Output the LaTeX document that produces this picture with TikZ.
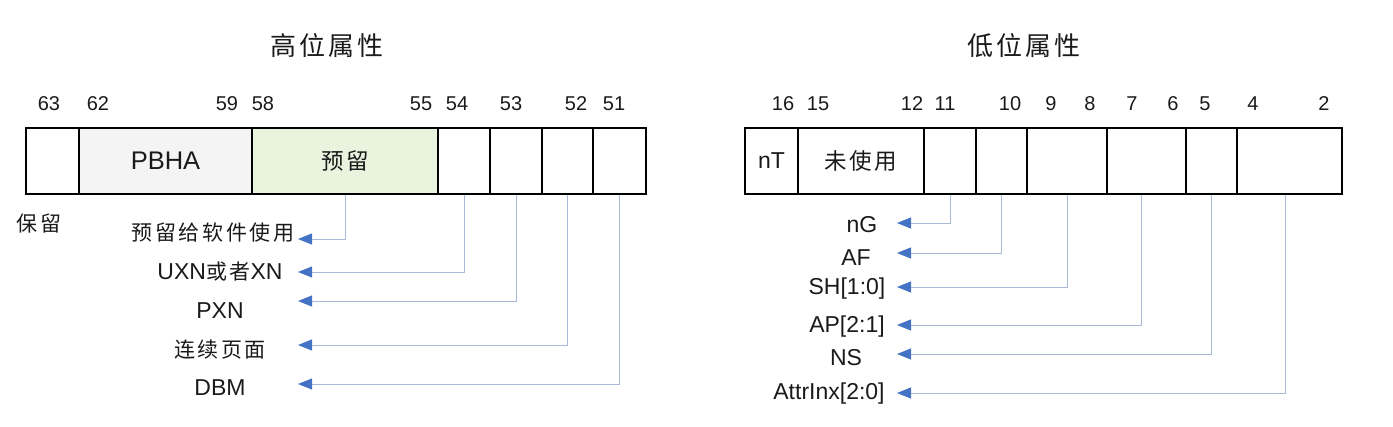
\documentclass[tikz,border=0pt]{standalone}
\usepackage{fontspec}
\setmainfont{Liberation Sans}
\newfontfamily\cjk[LetterSpace=12]{Noto Sans CJK SC}
\usetikzlibrary{arrows.meta}
\definecolor{txt}{HTML}{1A1A1A}
\definecolor{conn}{HTML}{A9BAD8}
\definecolor{arr}{HTML}{4472C4}
\definecolor{pbha}{HTML}{F4F4F4}
\definecolor{resv}{HTML}{EAF3DE}
\tikzset{
  cell/.style={draw=black, line width=1.8pt, minimum height=66pt, inner sep=0pt, fill=white, text=txt, font=\fontsize{23}{27}\selectfont},
  num/.style={text=txt, font=\fontsize{20}{24}\selectfont, inner sep=0pt},
  lbl/.style={text=txt, font=\fontsize{23}{27}\selectfont, inner sep=0pt},
  clbl/.style={text=txt, font=\fontsize{21}{25}\cjk, inner sep=0pt},
  ttl/.style={text=txt, font=\fontsize{26}{30}\cjk, inner sep=0pt},
  conn/.style={draw=conn, line width=1pt, -{Triangle[length=14pt,width=11pt,color=arr]}},
}
\begin{document}
\begin{tikzpicture}[x=1pt,y=-1pt]
\useasboundingbox (0,0) rectangle (1393,426);
% titles
\node[ttl] (t1) at (327,46) {高位属性};
\node[ttl] (t2) at (1024,46) {低位属性};
% left register cells
\node[cell, minimum width=53pt] (c63) at (52.5,161) {};
\node[cell, minimum width=173pt, fill=pbha, font=\fontsize{25.5}{29}\selectfont] (c62) at (165.5,161) {PBHA};
\node[cell, minimum width=186pt, fill=resv, font=\fontsize{22.5}{27}\cjk] (c58) at (345,161) {预留};
\node[cell, minimum width=52pt] (c54) at (464,161) {};
\node[cell, minimum width=52pt] (c53) at (516,161) {};
\node[cell, minimum width=51pt] (c52) at (567.5,161) {};
\node[cell, minimum width=53pt] (c51) at (619.5,161) {};
% left bit numbers
\node[num] (n63) at (49,104) {63};
\node[num] (n62) at (98,104) {62};
\node[num] (n59) at (227,104) {59};
\node[num] (n58) at (263,104) {58};
\node[num] (n55) at (421,104) {55};
\node[num] (n54) at (457,104) {54};
\node[num] (n53) at (511,104) {53};
\node[num] (n52) at (576,104) {52};
\node[num] (n51) at (614,104) {51};
% left labels
\node[clbl] (bl) at (39,224) {保留};
\node[clbl] (l1) at (213,233) {预留给软件使用};
\node[lbl] (l2) at (220,272) {UXN{\cjk\fontsize{21}{25}\selectfont 或者}XN};
\node[lbl] (l3) at (220,311) {PXN};
\node[clbl] (l4) at (220,350) {连续页面};
\node[lbl] (l5) at (220,388) {DBM};
\coordinate (a1) at (298,239);
\coordinate (a2) at (298,272);
\coordinate (a3) at (298,301);
\coordinate (a4) at (298,345);
\coordinate (a5) at (298,384);
\draw[conn] (c58.south) |- (a1);
\draw[conn] (c54.south) |- (a2);
\draw[conn] (c53.south) |- (a3);
\draw[conn] (c52.south) |- (a4);
\draw[conn] (c51.south) |- (a5);
% right register cells
\node[cell, minimum width=53pt] (c16) at (771.5,161) {nT};
\node[cell, minimum width=126pt, font=\fontsize{22.5}{27}\cjk] (c15) at (861,161) {未使用};
\node[cell, minimum width=52pt] (c11) at (950,161) {};
\node[cell, minimum width=51pt] (c10) at (1001.5,161) {};
\node[cell, minimum width=80pt] (c9) at (1067,161) {};
\node[cell, minimum width=79pt] (c7) at (1146.5,161) {};
\node[cell, minimum width=51pt] (c5) at (1211.5,161) {};
\node[cell, minimum width=105pt] (c4) at (1289.5,161) {};
% right bit numbers
\node[num] (m16) at (783,104) {16};
\node[num] (m15) at (818,104) {15};
\node[num] (m12) at (912,104) {12};
\node[num] (m11) at (945,104) {11};
\node[num] (m10) at (1010,104) {10};
\node[num] (m9) at (1051,104) {9};
\node[num] (m8) at (1090,104) {8};
\node[num] (m7) at (1132,104) {7};
\node[num] (m6) at (1173,104) {6};
\node[num] (m5) at (1205,104) {5};
\node[num] (m4) at (1253,104) {4};
\node[num] (m2) at (1324,104) {2};
% right labels
\node[lbl] (r1) at (862,225) {nG};
\node[lbl] (r2) at (856,258) {AF};
\node[lbl] (r3) at (847,289) {SH[1:0]};
\node[lbl] (r4) at (847,327) {AP[2:1]};
\node[lbl] (r5) at (846,358) {NS};
\node[lbl] (r6) at (829,394) {AttrInx[2:0]};
\coordinate (b1) at (897,223);
\coordinate (b2) at (897,253);
\coordinate (b3) at (897,287);
\coordinate (b4) at (897,325);
\coordinate (b5) at (897,354);
\coordinate (b6) at (897,393);
\draw[conn] (c11.south) |- (b1);
\draw[conn] (c10.south) |- (b2);
\draw[conn] (c9.south) |- (b3);
\draw[conn] ([xshift=-5pt]c7.south) |- (b4);
\draw[conn] (c5.south) |- (b5);
\draw[conn] ([xshift=-4pt]c4.south) |- (b6);
\end{tikzpicture}
\end{document}
